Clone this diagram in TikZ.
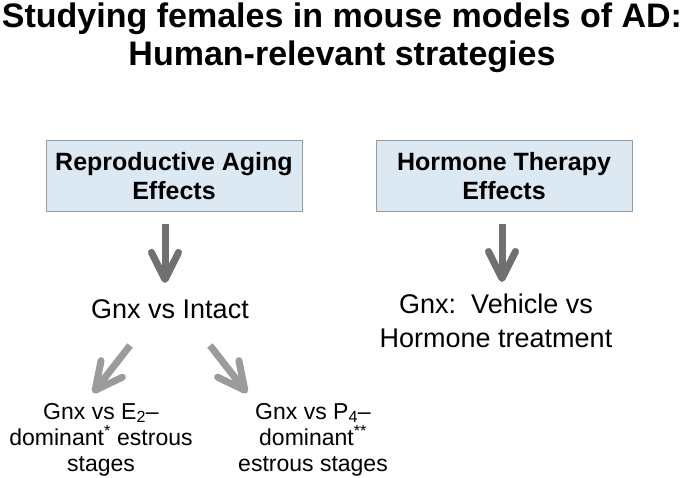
\documentclass[tikz,border=0pt]{standalone}
\usepackage{fontspec}
\setmainfont{Liberation Sans}
\usetikzlibrary{arrows.meta, calc}

\definecolor{effectfill}{RGB}{220,233,243}
\definecolor{effectline}{RGB}{148,156,164}
\definecolor{darkgrey}{RGB}{112,112,112}
\definecolor{lightgrey}{RGB}{155,155,155}

\tikzstyle{heading} = [font=\fontsize{34}{38}\selectfont\bfseries, align=center, inner sep=0]
\tikzstyle{effect} = [rectangle, minimum width=256pt, minimum height=71pt, text centered, align=center, draw=effectline, fill=effectfill, line width=1pt, font=\fontsize{25}{29}\selectfont\bfseries]
\tikzstyle{compare} = [align=center, inner sep=0, font=\fontsize{27}{34}\selectfont]
\tikzstyle{stages} = [align=center, inner sep=0, font=\fontsize{23}{26}\selectfont]
\tikzstyle{arrow} = [line width=7pt, draw=darkgrey, -{Straight Barb[length=27pt, width=27pt, round]}]
\tikzstyle{sidearrow} = [arrow, draw=lightgrey]

\begin{document}
\begin{tikzpicture}[x=1pt, y=-1pt]
\useasboundingbox (0,0) rectangle (685,478);

\node (title) [heading, anchor=north] at (342,3) {Studying females in mouse models of AD:\\Human-relevant strategies};
\node (aging) [effect] at (174,176.5) {Reproductive Aging\\Effects};
\node (therapy) [effect] at (504,176.5) {Hormone Therapy\\Effects};
\node (intact) [compare, anchor=base] at (170,318) {Gnx vs Intact};
\node (vehicle) [compare, anchor=north] at (496,294) {Gnx:\ \ Vehicle vs\\Hormone treatment};
\node (estradiol) [stages, anchor=north] at (101,403) {Gnx vs E\textsubscript{2}--\\dominant\textsuperscript{*} estrous\\stages};
\node (progest) [stages, anchor=north] at (313,403) {Gnx vs P\textsubscript{4}--\\dominant\textsuperscript{**}\\estrous stages};

\draw [arrow, shorten <=11.5pt, shorten >=16pt] ([xshift=-9pt]aging.south) -- ([xshift=-5pt]intact.north);
\draw [arrow, shorten <=11.5pt, shorten >=12pt] ([xshift=-2pt]therapy.south) -- ([xshift=6pt]vehicle.north);
\draw [sidearrow] ($(intact.south)+(-40,27)$) -- ($(estradiol.north)+(-8,-10)$);
\draw [sidearrow] ($(intact.south)+(40,27)$) -- ($(progest.north)+(-66,-10)$);

\end{tikzpicture}
\end{document}
